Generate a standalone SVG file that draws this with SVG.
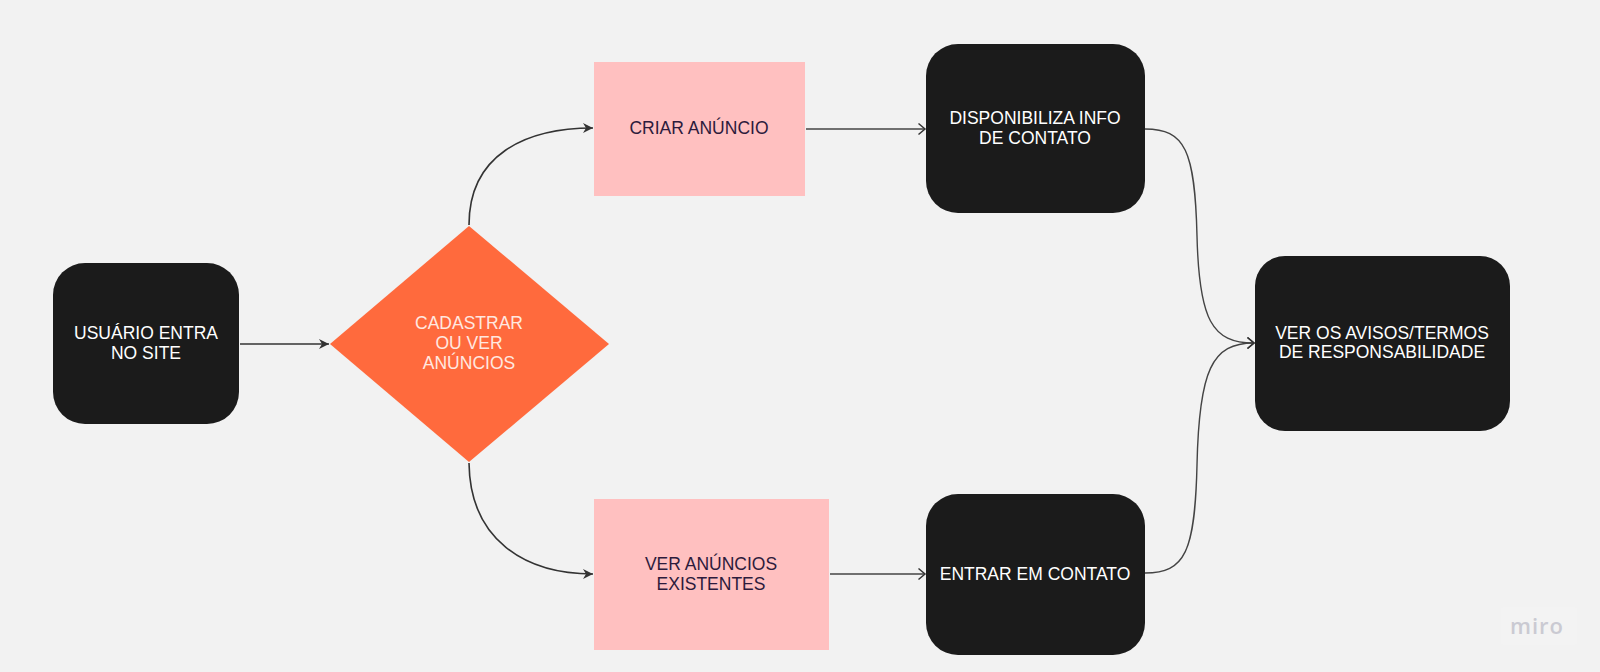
<svg xmlns="http://www.w3.org/2000/svg" width="1600" height="672" viewBox="0 0 1600 672">
<style>
.blk{fill:#1b1b1b}
.pink{fill:#ffc0c0}
.t{font-family:"Liberation Sans",Arial,sans-serif;font-size:17.5px;text-anchor:middle}
.tw{fill:#ffffff}
.tp{fill:#2d1b3c}
.td{fill:#ffe8e0}
.c{fill:none;stroke:#333333;stroke-width:1.6}
.c2{fill:none;stroke:#444444;stroke-width:1.4}
</style>
<defs>
<marker id="solid" viewBox="0 0 12 12" refX="11" refY="6" markerWidth="12" markerHeight="12" markerUnits="userSpaceOnUse" orient="auto">
<path d="M1,1 L11,6 L1,11 L4,6 Z" fill="#333333"/>
</marker>
<marker id="open" viewBox="0 0 12 14" refX="10.5" refY="7" markerWidth="12" markerHeight="14" markerUnits="userSpaceOnUse" orient="auto">
<path d="M4,1.5 L10.5,7 L4,12.5" fill="none" stroke="#333333" stroke-width="1.5"/>
</marker>
</defs>
<rect width="1600" height="672" fill="#f2f2f2"/>
<g id="connectors">
<path class="c" d="M240,344 L329,344" marker-end="url(#solid)" stroke-width="2"/>
<path class="c" d="M469,225 C469,155 525,128 593,128" marker-end="url(#solid)"/>
<path class="c" d="M469,463 C470,540 525,574 593,574" marker-end="url(#solid)"/>
<path class="c2" d="M806,129 L925,129" marker-end="url(#open)"/>
<path class="c2" d="M830,574 L925,574" marker-end="url(#open)"/>
<path class="c2" d="M1145,129 C1185,129 1195,150 1197,236 C1199,320 1212,343 1254,343" marker-end="url(#open)"/>
<path class="c2" d="M1145,573 C1185,573 1195,552 1197,465 C1199,370 1212,343 1254,343" marker-end="url(#open)"/>
</g>
<g id="usuario">
<rect class="blk" x="53" y="263" width="186" height="161" rx="32"/>
<text class="t tw" x="146" y="339">USUÁRIO ENTRA</text>
<text class="t tw" x="146" y="359">NO SITE</text>
</g>
<g id="decisao">
<polygon points="469,226 609,344 469,462 330,344" fill="#ff6a3d"/>
<text class="t td" x="469" y="329">CADASTRAR</text>
<text class="t td" x="469" y="349">OU VER</text>
<text class="t td" x="469" y="369">ANÚNCIOS</text>
</g>
<g id="criar">
<rect class="pink" x="594" y="62" width="211" height="134"/>
<text class="t tp" x="699" y="134">CRIAR ANÚNCIO</text>
</g>
<g id="ver-anuncios">
<rect class="pink" x="594" y="499" width="235" height="151"/>
<text class="t tp" x="711" y="570">VER ANÚNCIOS</text>
<text class="t tp" x="711" y="590">EXISTENTES</text>
</g>
<g id="disponibiliza">
<rect class="blk" x="926" y="44" width="219" height="169" rx="32"/>
<text class="t tw" x="1035" y="124">DISPONIBILIZA INFO</text>
<text class="t tw" x="1035" y="144">DE CONTATO</text>
</g>
<g id="entrar">
<rect class="blk" x="926" y="494" width="219" height="161" rx="32"/>
<text class="t tw" x="1035" y="580">ENTRAR EM CONTATO</text>
</g>
<g id="avisos">
<rect class="blk" x="1255" y="256" width="255" height="175" rx="30"/>
<text class="t tw" x="1382" y="339">VER OS AVISOS/TERMOS</text>
<text class="t tw" x="1382" y="358">DE RESPONSABILIDADE</text>
</g>
<g id="miro-logo">
<rect x="1501" y="607" width="76" height="38" rx="3" fill="#f3f3f3"/>
<text x="1537" y="634" font-family="'Open Sans','Liberation Sans',sans-serif" font-size="22" font-weight="600" letter-spacing="1" text-anchor="middle" fill="#cacad2">miro</text>
</g>
</svg>
